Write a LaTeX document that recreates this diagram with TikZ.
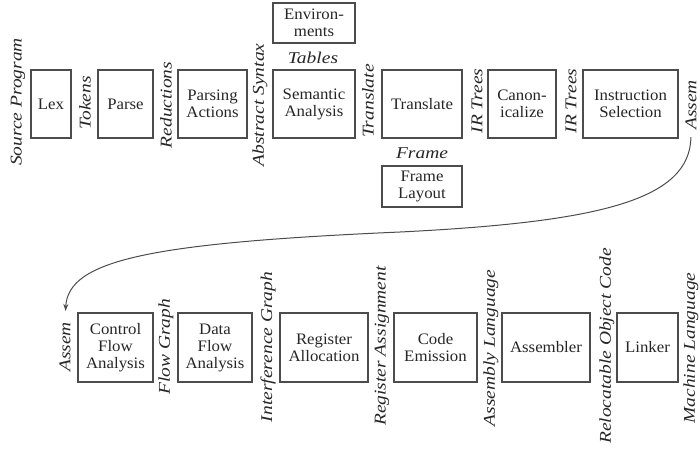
\documentclass[tikz,border=0pt]{standalone}
\usepackage{fontspec}
\setmainfont{Liberation Serif}
\newfontfamily\lblfont{Liberation Serif}[FakeStretch=1.18]
\newfontfamily\boxfont{Liberation Serif}[FakeStretch=1.05]
\usetikzlibrary{arrows.meta}
\begin{document}
\begin{tikzpicture}[x=1pt,y=-1pt,
  box/.style={draw=black!70,line width=1.1pt,rectangle,inner sep=0pt,align=center,
    font=\boxfont\fontsize{16}{17}\selectfont,text=black!85},
  toprow/.style={box,minimum height=68pt},
  botrow/.style={box,minimum height=69pt},
  lbl/.style={rotate=90,inner sep=0pt,font=\lblfont\fontsize{16.5}{17}\selectfont\itshape,text=black!85},
  hlbl/.style={inner sep=0pt,font=\lblfont\fontsize{16.5}{17}\selectfont\itshape,text=black!85},
  conn/.style={draw=black!70,line width=1pt,-{Stealth[length=7pt,width=5pt]}}]
\useasboundingbox (0,0) rectangle (700,450);
% top row boxes
\node[toprow,minimum width=40pt] (lex) at (51,104) {Lex};
\node[toprow,minimum width=55pt] (parse) at (125.5,104) {Parse};
\node[toprow,minimum width=69pt] (pact) at (212.5,104) {Parsing\\Actions};
\node[toprow,minimum width=82pt] (sem) at (314,104) {Semantic\\Analysis};
\node[toprow,minimum width=80pt] (trans) at (422,104) {Translate};
\node[toprow,minimum width=68pt] (canon) at (522,104) {Canon-\\icalize};
\node[toprow,minimum width=95pt] (isel) at (630.5,104) {Instruction\\Selection};
\node[box,minimum width=82pt,minimum height=40pt] (env) at (314,23) {Environ-\\ments};
\node[box,minimum width=80pt,minimum height=41pt] (flay) at (422,186.5) {Frame\\Layout};
% top row labels
\node[lbl] (srcprog) at (18,102) {Source Program};
\node[lbl] (tokens) at (85,103) {Tokens};
\node[lbl] (reduct) at (166,105) {Reductions};
\node[lbl] (abssyn) at (260,105) {Abstract Syntax};
\node[lbl] (translbl) at (368,101) {Translate};
\node[lbl] (irA) at (477,101) {IR Trees};
\node[lbl] (irB) at (571,101) {IR Trees};
\node[lbl] (assemA) at (691,105) {Assem};
\node[hlbl] (tables) at (313,58) {Tables};
\node[hlbl] (frame) at (422,153) {Frame};
% bottom row boxes
\node[botrow,minimum width=75pt] (cfa) at (115.5,347.5) {Control\\Flow\\Analysis};
\node[botrow,minimum width=74pt] (dfa) at (215,347.5) {Data\\Flow\\Analysis};
\node[botrow,minimum width=88pt] (ralloc) at (324,347.5) {Register\\Allocation};
\node[botrow,minimum width=83pt] (cemit) at (435.5,347.5) {Code\\Emission};
\node[botrow,minimum width=88pt] (asmb) at (546,347.5) {Assembler};
\node[botrow,minimum width=61pt] (link) at (647.5,347.5) {Linker};
% bottom row labels
\node[lbl] (assemB) at (65,347) {Assem};
\node[lbl] (flowg) at (166,347) {Flow Graph};
\node[lbl] (interf) at (268,347) {Interference Graph};
\node[lbl] (regas) at (382,346) {Register Assignment};
\node[lbl] (asml) at (491,348) {Assembly Language};
\node[lbl] (reloc) at (607,346) {Relocatable Object Code};
\node[lbl] (machl) at (691,348) {Machine Language};
% connector
\draw[conn,shorten <=7pt,shorten >=11pt] (assemA.west)
  .. controls (690,200) and (600,222) .. (400,232)
  .. controls (150,243) and (68,260) .. (assemB.east);
\end{tikzpicture}
\end{document}
